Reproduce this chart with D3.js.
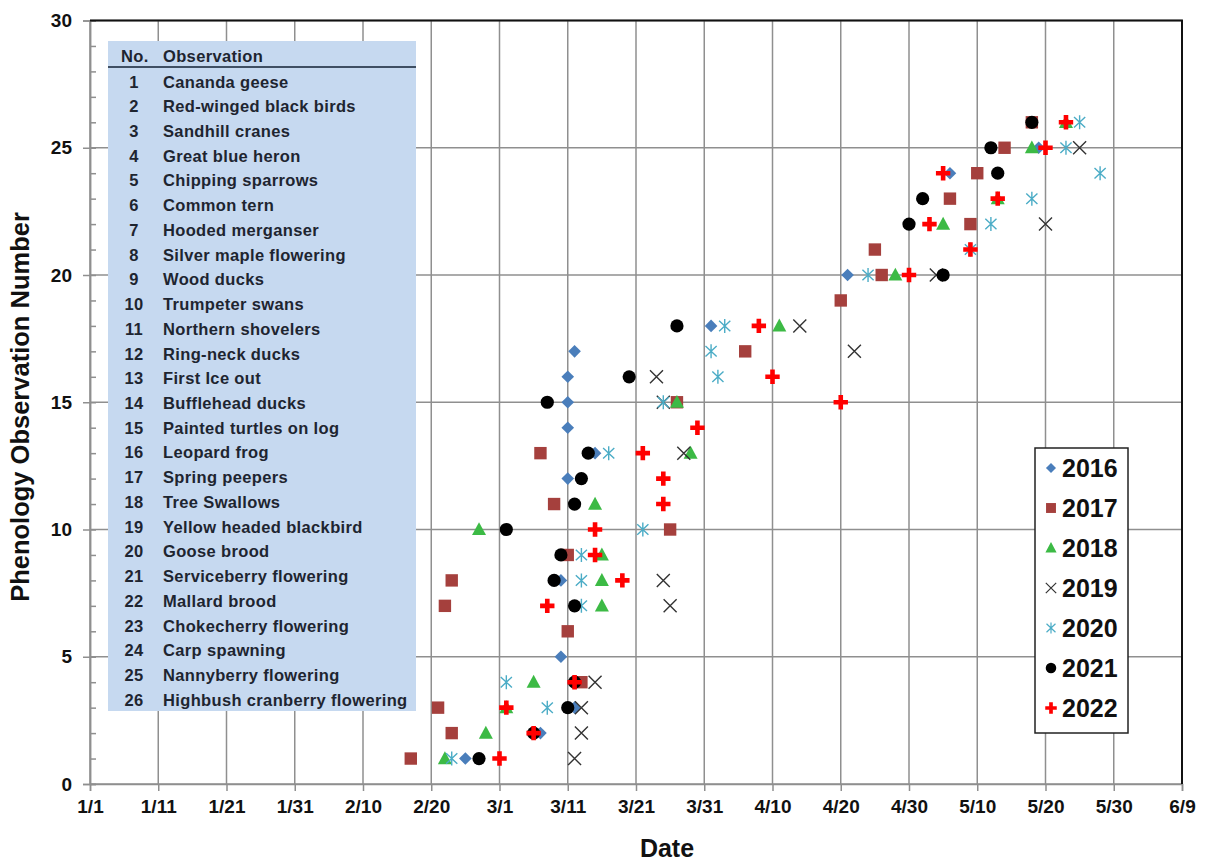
<!DOCTYPE html>
<html>
<head>
<meta charset="utf-8">
<script src="https://cdn.jsdelivr.net/npm/d3@7"></script>
<style>
  body { margin: 0; background: #fff; }
  svg { font-family: "Liberation Sans", Arial, sans-serif; }
</style>
</head>
<body>
<script>
// observations in the table (No. = index + 1)
var observations = ["Cananda geese", "Red-winged black birds", "Sandhill cranes", "Great blue heron",
  "Chipping sparrows", "Common tern", "Hooded merganser", "Silver maple flowering", "Wood ducks",
  "Trumpeter swans", "Northern shovelers", "Ring-neck ducks", "First Ice out", "Bufflehead ducks",
  "Painted turtles on log", "Leopard frog", "Spring peepers", "Tree Swallows", "Yellow headed blackbird",
  "Goose brood", "Serviceberry flowering", "Mallard brood", "Chokecherry flowering", "Carp spawning",
  "Nannyberry flowering", "Highbush cranberry flowering"];

var years = ["2016", "2017", "2018", "2019", "2020", "2021", "2022"];

// [observation no., date first seen]
var obs2016 = [[1,"2/25"],[2,"3/7"],[3,"3/12"],[5,"3/10"],[8,"3/10"],[12,"3/11"],[13,"3/15"],[14,"3/11"],
  [15,"3/11"],[16,"3/11"],[17,"3/12"],[18,"4/1"],[20,"4/21"],[24,"5/6"],[25,"5/19"]];
var obs2017 = [[1,"2/17"],[2,"2/23"],[3,"2/21"],[4,"3/13"],[6,"3/11"],[7,"2/22"],[8,"2/23"],[9,"3/11"],
  [10,"3/26"],[11,"3/9"],[13,"3/7"],[15,"3/27"],[17,"4/6"],[19,"4/20"],[20,"4/26"],[21,"4/25"],[22,"5/9"],
  [23,"5/6"],[24,"5/10"],[25,"5/14"],[26,"5/18"]];
var obs2018 = [[1,"2/22"],[2,"2/28"],[3,"3/2"],[4,"3/6"],[7,"3/16"],[8,"3/16"],[9,"3/16"],[10,"2/27"],
  [11,"3/15"],[13,"3/29"],[15,"3/27"],[18,"4/11"],[20,"4/28"],[22,"5/5"],[23,"5/13"],[25,"5/18"],[26,"5/23"]];
var obs2019 = [[1,"3/12"],[2,"3/13"],[3,"3/13"],[4,"3/15"],[7,"3/26"],[8,"3/25"],[13,"3/28"],[15,"3/25"],
  [16,"3/24"],[17,"4/22"],[18,"4/14"],[20,"5/4"],[22,"5/20"],[25,"5/25"]];
var obs2020 = [[1,"2/23"],[3,"3/8"],[4,"3/2"],[7,"3/13"],[8,"3/13"],[9,"3/13"],[10,"3/22"],[13,"3/17"],
  [15,"3/25"],[16,"4/2"],[17,"4/1"],[18,"4/3"],[20,"4/24"],[21,"5/9"],[22,"5/12"],[23,"5/18"],[24,"5/28"],
  [25,"5/23"],[26,"5/25"]];
var obs2021 = [[1,"2/27"],[2,"3/6"],[3,"3/11"],[4,"3/12"],[7,"3/12"],[8,"3/9"],[9,"3/10"],[10,"3/2"],
  [11,"3/12"],[12,"3/13"],[13,"3/14"],[15,"3/8"],[16,"3/20"],[18,"3/27"],[20,"5/5"],[22,"4/30"],[23,"5/2"],
  [24,"5/13"],[25,"5/12"],[26,"5/18"]];
var obs2022 = [[1,"3/1"],[2,"3/6"],[3,"3/2"],[4,"3/12"],[7,"3/8"],[8,"3/19"],[9,"3/15"],[10,"3/15"],
  [11,"3/25"],[12,"3/25"],[13,"3/22"],[14,"3/30"],[15,"4/20"],[16,"4/10"],[18,"4/8"],[20,"4/30"],[21,"5/9"],
  [22,"5/3"],[23,"5/13"],[24,"5/5"],[25,"5/20"],[26,"5/23"]];

var yTicks = [0, 5, 10, 15, 20, 25, 30];

// ---------------------------------------------------------------
var width = 1206, height = 863;
var plotL = 90, plotR = 1182, plotT = 20.5, plotB = 784;

// dates are read in a leap year so that 2/20 + 10 days = 3/1
var parse = d3.timeParse("%m/%d/%Y");
function toDate(s) { return parse(s + "/2020"); }
var start = toDate("1/1");
var xTicks = d3.range(0, 161, 10).map(function (d) { return d3.timeDay.offset(start, d); });

var x = d3.scaleTime().domain([start, d3.timeDay.offset(start, 160)]).range([plotL, plotR]);
var y = d3.scaleLinear().domain([0, 30]).range([plotB, plotT]);

var svg = d3.select("body").append("svg").attr("width", width).attr("height", height);

// marker shapes (Excel style)
var shapes = {
  diamond: { draw: function (c, r) { c.moveTo(0, -r); c.lineTo(r, 0); c.lineTo(0, r); c.lineTo(-r, 0); c.closePath(); } },
  square: { draw: function (c, r) { c.rect(-r, -r, 2 * r, 2 * r); } },
  triangle: { draw: function (c, r) { c.moveTo(0, -r * 1.05); c.lineTo(r, r * 0.8); c.lineTo(-r, r * 0.8); c.closePath(); } },
  cross: { draw: function (c, r) { c.moveTo(-r, -r); c.lineTo(r, r); c.moveTo(r, -r); c.lineTo(-r, r); } },
  star: { draw: function (c, r) {
    c.moveTo(0, -r); c.lineTo(0, r);
    c.moveTo(-r * 0.8, -r * 0.75); c.lineTo(r * 0.8, r * 0.75);
    c.moveTo(r * 0.8, -r * 0.75); c.lineTo(-r * 0.8, r * 0.75); } },
  circle: { draw: function (c, r) { c.moveTo(r, 0); c.arc(0, 0, r, 0, 2 * Math.PI); } },
  plus: { draw: function (c, r) {
    var t = r * 0.32;
    c.moveTo(-t, -r); c.lineTo(t, -r); c.lineTo(t, -t); c.lineTo(r, -t); c.lineTo(r, t); c.lineTo(t, t);
    c.lineTo(t, r); c.lineTo(-t, r); c.lineTo(-t, t); c.lineTo(-r, t); c.lineTo(-r, -t); c.lineTo(-t, -t); c.closePath(); } }
};

var series = [
  { year: "2016", data: obs2016, shape: "diamond", fill: "#4a7ebb", stroke: "none", r: 6.3 },
  { year: "2017", data: obs2017, shape: "square", fill: "#a5403d", stroke: "none", r: 6.2 },
  { year: "2018", data: obs2018, shape: "triangle", fill: "#3cba45", stroke: "none", r: 7 },
  { year: "2019", data: obs2019, shape: "cross", fill: "none", stroke: "#333333", r: 6.5 },
  { year: "2020", data: obs2020, shape: "star", fill: "none", stroke: "#4bacc6", r: 7 },
  { year: "2021", data: obs2021, shape: "circle", fill: "#000000", stroke: "none", r: 6.6 },
  { year: "2022", data: obs2022, shape: "plus", fill: "#ff0000", stroke: "none", r: 7.2 }
];

function marker(s, r) {
  // size argument passed straight through as a radius
  return d3.symbol().type(shapes[s.shape]).size(r)();
}

// gridlines
var grid = svg.append("g").attr("stroke", "#8f8f8f").attr("stroke-width", 1.5);
grid.selectAll("line.v").data(xTicks).enter().append("line")
  .attr("x1", function (d) { return x(d); }).attr("x2", function (d) { return x(d); })
  .attr("y1", plotT).attr("y2", plotB);
grid.selectAll("line.h").data(yTicks).enter().append("line")
  .attr("x1", plotL).attr("x2", plotR)
  .attr("y1", function (d) { return y(d); }).attr("y2", function (d) { return y(d); });

// axes
var xAxis = svg.append("g").attr("transform", "translate(0," + plotB + ")")
  .call(d3.axisBottom(x).tickValues(xTicks).tickFormat(d3.timeFormat("%-m/%-d")).tickSize(7).tickPadding(9));
var yAxis = svg.append("g").attr("transform", "translate(" + plotL + ",0)")
  .call(d3.axisLeft(y).tickValues(yTicks).tickSize(7).tickPadding(11));
var yMinor = svg.append("g").attr("transform", "translate(" + plotL + ",0)")
  .call(d3.axisRight(y).tickValues(d3.range(0, 31, 1)).tickSize(6).tickFormat(""));
[xAxis, yAxis, yMinor].forEach(function (a) {
  a.select(".domain").attr("stroke", "#8f8f8f").attr("stroke-width", 1.5);
  a.selectAll(".tick line").attr("stroke", "#8f8f8f").attr("stroke-width", 1.5);
  a.selectAll("text").attr("font-size", 19).attr("font-weight", "bold").attr("fill", "#111")
    .attr("font-family", "Liberation Sans, Arial, sans-serif");
});
// top and right border
svg.append("path").attr("d", "M" + plotL + "," + plotT + "H" + plotR + "V" + plotB)
  .attr("fill", "none").attr("stroke", "#111").attr("stroke-width", 2);

// observation table
var table = svg.append("g");
table.append("rect").attr("x", 108).attr("y", 41).attr("width", 308).attr("height", 670).attr("fill", "#c6d9f0");
table.append("line").attr("x1", 108).attr("x2", 416).attr("y1", 67).attr("y2", 67)
  .attr("stroke", "#3f4f63").attr("stroke-width", 2);
table.append("text").attr("x", 121).attr("y", 62).text("No.");
table.append("text").attr("x", 163).attr("y", 62).text("Observation");
var row = table.selectAll("g.row").data(observations).enter().append("g")
  .attr("transform", function (d, i) { return "translate(0," + (87.5 + i * 24.73) + ")"; });
row.append("text").attr("x", 134).attr("text-anchor", "middle").text(function (d, i) { return i + 1; });
row.append("text").attr("x", 163).text(function (d) { return d; });
table.selectAll("text").attr("font-size", 16.5).attr("letter-spacing", 0.35)
  .attr("font-weight", "bold").attr("fill", "#1e2530");

// points, drawn 2016 first so later years sit on top
series.forEach(function (s) {
  svg.append("g").selectAll("path").data(s.data).enter().append("path")
    .attr("transform", function (d) { return "translate(" + x(toDate(d[1])) + "," + y(d[0]) + ")"; })
    .attr("d", marker(s, s.r))
    .attr("fill", s.fill).attr("stroke", s.stroke).attr("stroke-width", 1.4);
});

// legend
var legend = svg.append("g");
legend.append("rect").attr("x", 1035).attr("y", 448).attr("width", 93).attr("height", 285)
  .attr("fill", "#fff").attr("stroke", "#222").attr("stroke-width", 1.5);
var item = legend.selectAll("g.item").data(series).enter().append("g")
  .attr("transform", function (d, i) { return "translate(1051," + (468 + i * 40) + ")"; });
item.append("path").attr("d", function (s) { return marker(s, s.r * 0.8); })
  .attr("fill", function (s) { return s.fill; }).attr("stroke", function (s) { return s.stroke; })
  .attr("stroke-width", 1.2);
item.append("text").attr("x", 11).attr("dy", "0.36em").attr("font-size", 25).attr("font-weight", "bold")
  .attr("fill", "#111").text(function (s) { return s.year; });

// axis titles
svg.append("text").attr("x", 667).attr("y", 857).attr("text-anchor", "middle")
  .attr("font-size", 25).attr("font-weight", "bold").attr("fill", "#111").text("Date");
svg.append("text").attr("transform", "translate(29,407) rotate(-90)")
  .attr("text-anchor", "middle").attr("font-size", 25.5).attr("font-weight", "bold").attr("fill", "#111")
  .text("Phenology Observation Number");
</script>
</body>
</html>
